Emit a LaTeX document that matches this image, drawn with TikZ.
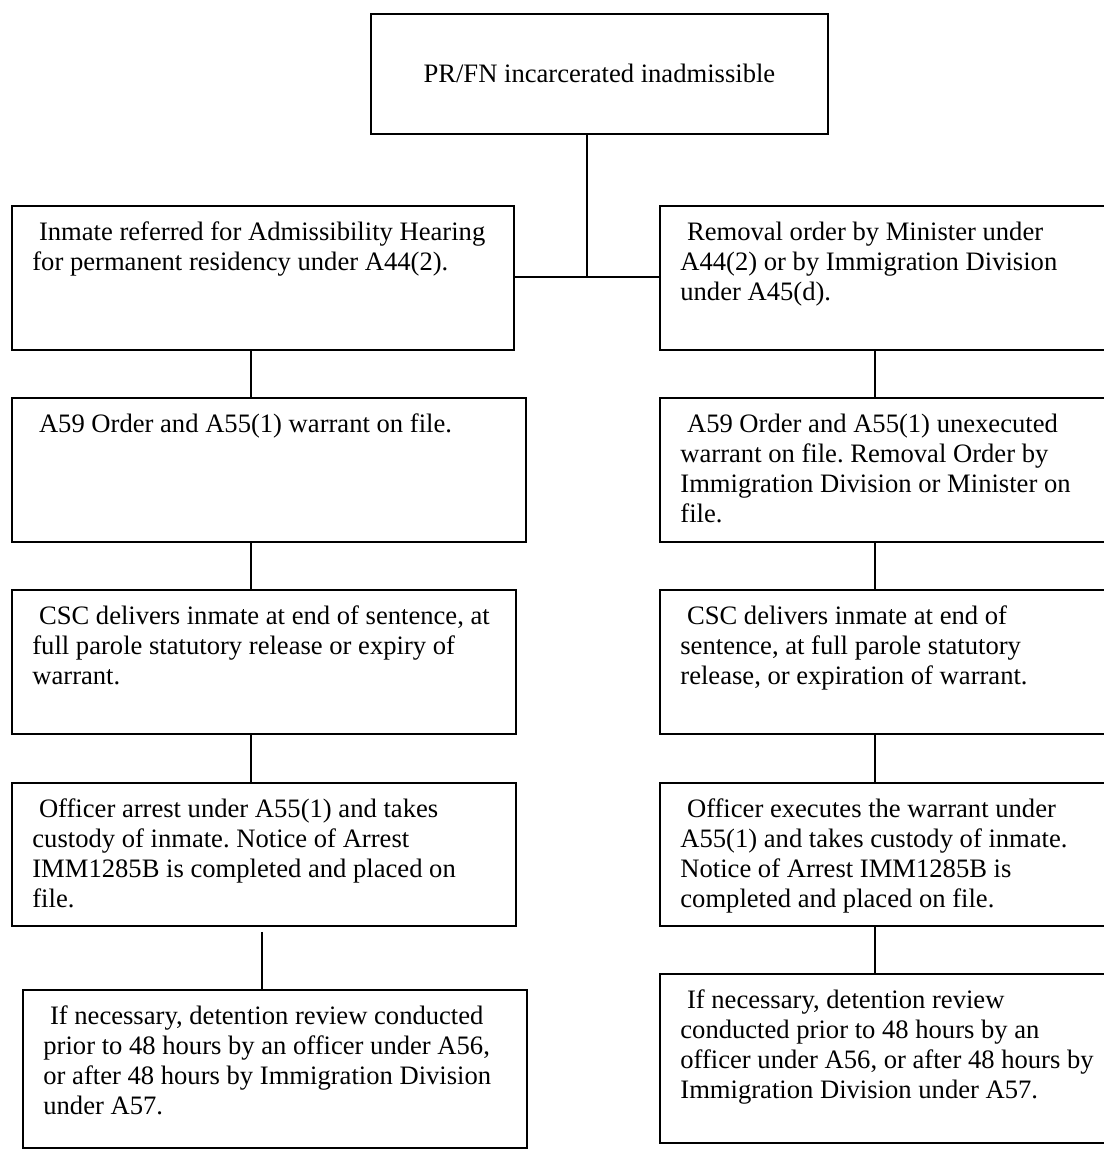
\documentclass[tikz,border=0pt]{standalone}
\usepackage{fontspec}
\setmainfont{Liberation Serif}
\usepackage{tikz}
\frenchspacing

\newlength{\pxu}
\setlength{\pxu}{0.451pt}
% text block of a box: width, height, lines
\newcommand{\boxtext}[3]{\parbox[t][#2\pxu][t]{#1\pxu}{\raggedright\rule{0pt}{35\pxu}#3}}

\tikzset{
	stepbox/.style={draw, line width=0.8pt, anchor=north west, inner xsep=20.5\pxu, inner ysep=0pt},
	link/.style={line width=0.8pt}
}

\begin{document}
\begin{tikzpicture}[x=0.451pt, y=-0.451pt, font=\fontsize{12}{13.5}\selectfont]

	\useasboundingbox (0,0) rectangle (1104,1150);

	% Top box
	\node[draw, line width=0.8pt, anchor=north west, inner sep=0pt,
	      minimum width=457\pxu, minimum height=120\pxu] (top) at (370,13)
	      {PR/FN incarcerated inadmissible};

	% Left column
	\node[stepbox] (l1) at (11,205) {\boxtext{461}{144}{\ Inmate referred for Admissibility Hearing\\
		for permanent residency under A44(2).}};
	\node[stepbox] (l2) at (11,397) {\boxtext{473}{144}{\ A59 Order and A55(1) warrant on file.}};
	\node[stepbox] (l3) at (11,589) {\boxtext{463}{144}{\ CSC delivers inmate at end of sentence, at\\
		full parole statutory release or expiry of\\
		warrant.}};
	\node[stepbox] (l4) at (11,782) {\boxtext{463}{143}{\ Officer arrest under A55(1) and takes\\
		custody of inmate. Notice of Arrest\\
		IMM1285B is completed and placed on\\
		file.}};
	\node[stepbox] (l5) at (22,989) {\boxtext{463}{158}{\ If necessary, detention review conducted\\
		prior to 48 hours by an officer under A56,\\
		or after 48 hours by Immigration Division\\
		under A57.}};

	% Right column
	\node[stepbox] (r1) at (659,205) {\boxtext{430}{144}{\ Removal order by Minister under\\
		A44(2) or by Immigration Division\\
		under A45(d).}};
	\node[stepbox] (r2) at (659,397) {\boxtext{430}{144}{\ A59 Order and A55(1) unexecuted\\
		warrant on file. Removal Order by\\
		Immigration Division or Minister on\\
		file.}};
	\node[stepbox] (r3) at (659,589) {\boxtext{430}{144}{\ CSC delivers inmate at end of\\
		sentence, at full parole statutory\\
		release, or expiration of warrant.}};
	\node[stepbox] (r4) at (659,782) {\boxtext{430}{143}{\ Officer executes the warrant under\\
		A55(1) and takes custody of inmate.\\
		Notice of Arrest IMM1285B is\\
		completed and placed on file.}};
	\node[stepbox] (r5) at (659,973) {\boxtext{430}{169}{\ If necessary, detention review\\
		conducted prior to 48 hours by an\\
		officer under A56, or after 48 hours by\\
		Immigration Division under A57.}};

	% Split under the top box
	\coordinate (hub) at (587,277);
	\draw[link] (top.south -| hub) -- (hub);
	\draw[link] (l1.east |- hub) -- (r1.west |- hub);

	% Left links
	\coordinate (lcol) at (251,0);
	\coordinate (lcol2) at (262,0);
	\draw[link] (l1.south -| lcol) -- (l2.north -| lcol);
	\draw[link] (l2.south -| lcol) -- (l3.north -| lcol);
	\draw[link] (l3.south -| lcol) -- (l4.north -| lcol);
	\draw[link] (l4.south -| lcol2) ++(0,5) -- (l5.north -| lcol2);

	% Right links
	\coordinate (rcol) at (875,0);
	\draw[link] (r1.south -| rcol) -- (r2.north -| rcol);
	\draw[link] (r2.south -| rcol) -- (r3.north -| rcol);
	\draw[link] (r3.south -| rcol) -- (r4.north -| rcol);
	\draw[link] (r4.south -| rcol) -- (r5.north -| rcol);
\end{tikzpicture}
\end{document}
